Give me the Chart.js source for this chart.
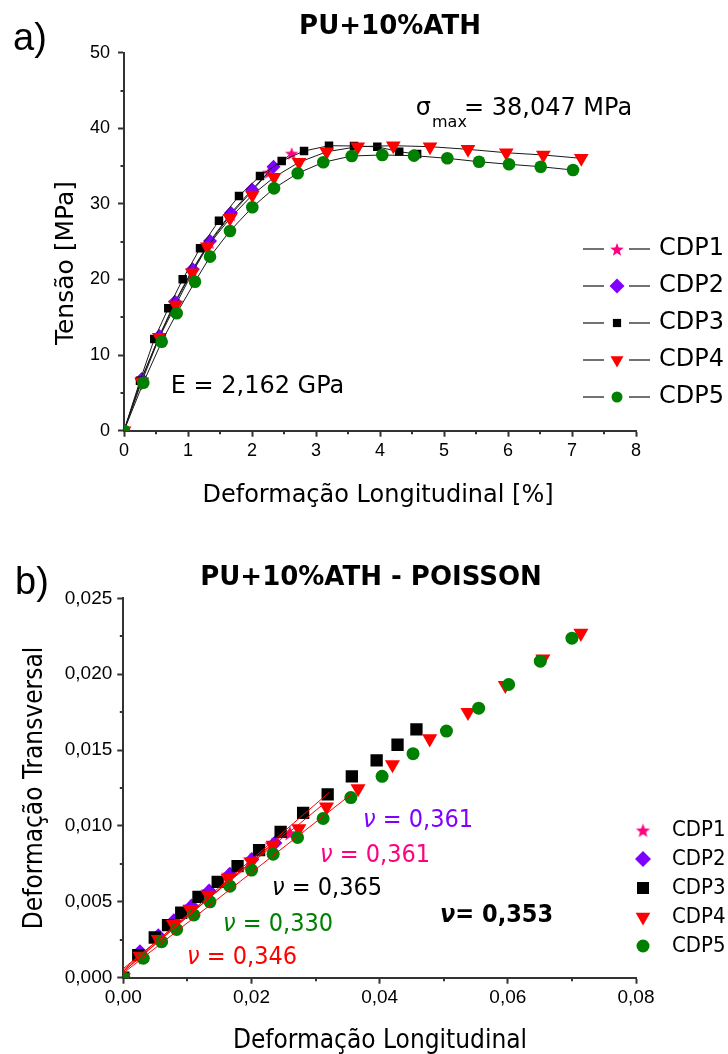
<!DOCTYPE html>
<html><head><meta charset="utf-8">
<script src="https://cdn.jsdelivr.net/npm/chart.js@4/dist/chart.umd.min.js"></script>
<style>
html,body{margin:0;padding:0;background:#fff;}
#wrap{position:relative;width:728px;height:1054px;overflow:hidden;}
canvas{position:absolute;left:0;}
#c1{top:0;} #c2{top:540px;}
</style></head><body>
<div id="wrap"><canvas id="c1" width="728" height="540"></canvas><canvas id="c2" width="728" height="514"></canvas></div>
<script>
// ---------- DATA (a) tension vs strain ----------
const seriesNames = ['CDP1','CDP2','CDP3','CDP4','CDP5'];
const cdp1StrainA = [0, 0.27, 0.55, 0.80, 1.07, 1.34, 1.67, 2.00, 2.26, 2.62];
const cdp1StressA = [0, 6.8, 12.4, 16.9, 21.2, 24.9, 28.6, 31.7, 34.2, 36.7];
const cdp2StrainA = [0, 0.277, 0.552, 0.797, 1.073, 1.344, 1.672, 2.000, 2.336];
const cdp2StressA = [0, 6.84, 12.53, 17.06, 21.35, 25.09, 28.80, 31.90, 34.9];
const cdp3StrainA = [0, 0.25, 0.473, 0.692, 0.917, 1.188, 1.484, 1.797, 2.125, 2.464, 2.813, 3.203, 3.594, 3.958, 4.30, 4.58];
const cdp3StressA = [0, 6.61, 12.13, 16.19, 20.03, 24.13, 27.78, 31.05, 33.69, 35.67, 37.00, 37.70, 37.66, 37.55, 36.9, 36.6];
const cdp4StrainA = [0, 0.277, 0.552, 0.808, 1.067, 1.302, 1.656, 2.005, 2.344, 2.734, 3.167, 3.652, 4.208, 4.781, 5.375, 5.973, 6.552, 7.145];
const cdp4StressA = [0, 6.48, 12.35, 16.63, 20.90, 24.34, 28.10, 31.18, 33.52, 35.50, 36.90, 37.57, 37.70, 37.57, 37.22, 36.77, 36.47, 36.03];
const cdp5StrainA = [0, 0.302, 0.589, 0.823, 1.109, 1.344, 1.656, 2.005, 2.344, 2.714, 3.114, 3.558, 4.036, 4.531, 5.052, 5.547, 6.016, 6.511, 7.016];
const cdp5StressA = [0, 6.35, 11.77, 15.53, 19.71, 23.02, 26.42, 29.55, 32.06, 34.05, 35.50, 36.34, 36.47, 36.38, 36.03, 35.58, 35.24, 34.92, 34.48];
const ticksXA = [0,1,2,3,4,5,6,7,8];
const ticksYA = [0,10,20,30,40,50];
const minorXA = [0.5,1.5,2.5,3.5,4.5,5.5,6.5,7.5];
const minorYA = [5,15,25,35,45];

// ---------- DATA (b) Poisson ----------
const cdp1LongB = [0, 0.0025, 0.0053, 0.0077, 0.0104, 0.0132, 0.0164, 0.0198, 0.0232, 0.0260];
const cdp1TransB = [0, 0.0016, 0.0027, 0.0037, 0.0047, 0.0057, 0.0068, 0.0078, 0.0088, 0.00954];
const cdp2LongB = [0, 0.0026, 0.00546, 0.0079, 0.01066, 0.0134, 0.01663, 0.02006, 0.02365];
const cdp2TransB = [0, 0.00171, 0.00276, 0.00375, 0.00472, 0.00572, 0.00682, 0.00779, 0.00888];
const cdp3LongB = [0, 0.00233, 0.00491, 0.00698, 0.00904, 0.01173, 0.01473, 0.01783, 0.02119, 0.02455, 0.02806, 0.03189, 0.03566, 0.03953, 0.04279, 0.04574];
const cdp3TransB = [0, 0.00149, 0.00265, 0.00346, 0.00428, 0.00533, 0.00632, 0.00735, 0.00840, 0.00961, 0.01086, 0.01208, 0.01327, 0.01432, 0.01535, 0.01636];
const cdp4LongB = [0, 0.0026, 0.00546, 0.00779, 0.0104, 0.01325, 0.01637, 0.02002, 0.02338, 0.02739, 0.03171, 0.03663, 0.0420, 0.04781, 0.05378, 0.05961, 0.06547, 0.0714];
const cdp4TransB = [0, 0.00143, 0.00253, 0.00353, 0.0045, 0.00544, 0.00654, 0.00763, 0.00873, 0.00983, 0.01125, 0.01246, 0.01404, 0.01575, 0.01748, 0.01926, 0.02101, 0.0227];
const cdp5LongB = [0, 0.00312, 0.00599, 0.00832, 0.01102, 0.01352, 0.01663, 0.02002, 0.02338, 0.02719, 0.03118, 0.0355, 0.04038, 0.04521, 0.05042, 0.05545, 0.06013, 0.06507, 0.07];
const cdp5TransB = [0, 0.00128, 0.00237, 0.00318, 0.00413, 0.005, 0.00603, 0.00709, 0.00814, 0.00924, 0.01049, 0.01187, 0.01327, 0.01476, 0.01625, 0.01776, 0.01932, 0.02086, 0.02237];
// linear fits (end points)
const fit1Long = [0, 0.026], fit1Trans = [0.0004, 0.0098];
const fit2Long = [0, 0.024], fit2Trans = [0.0004, 0.0091];
const fit3Long = [0, 0.0321], fit3Trans = [0.0005, 0.0122];
const fit4Long = [0, 0.0314], fit4Trans = [0.0006, 0.0115];
const fit5Long = [0, 0.0356], fit5Trans = [0.0003, 0.0121];
const poissonLabels = ['0,361','0,361','0,365','0,346','0,330'];
const poissonMean = '0,353';
const ticksXB = [0, 0.02, 0.04, 0.06, 0.08];
const tickLabelsXB = ['0,00','0,02','0,04','0,06','0,08'];
const ticksYB = [0, 0.005, 0.010, 0.015, 0.020, 0.025];
const tickLabelsYB = ['0,000','0,005','0,010','0,015','0,020','0,025'];
const minorXB = [0.01, 0.03, 0.05, 0.07];
const minorYB = [0.0025, 0.0075, 0.0125, 0.0175, 0.0225];

// ---------- styles ----------
const SANS = "'DejaVu Sans', Verdana, sans-serif";
const COND = "'DejaVu Sans Condensed', 'DejaVu Sans', sans-serif";
const ARIAL = "'Liberation Sans', Arial, sans-serif";
const colors = ['#FF0080', '#8000FF', '#000000', '#FF0000', '#008000'];
const AXIS = '#333333';

function starCanvas(r, color){
  const s = Math.ceil(r*2+2); const c = document.createElement('canvas');
  c.width = s; c.height = s; const g = c.getContext('2d');
  g.fillStyle = color; g.beginPath();
  for (let i=0;i<10;i++){ const rr = i%2 ? r*0.42 : r; const a = -Math.PI/2 + i*Math.PI/5;
    g.lineTo(s/2 + rr*Math.cos(a), s/2 + 1 + rr*Math.sin(a)); }
  g.closePath(); g.fill(); return c;
}
const pts = (xs, ys) => xs.map((x,i)=>({x:x, y:ys[i]}));

function markerStyles(big){
  return [
    {pointStyle: starCanvas(big?8:7, colors[0]), radius: big?8:7, rotation:0},
    {pointStyle: 'rectRot', radius: big?7.5:7, rotation:0},
    {pointStyle: 'rect', radius: big?8.7:6, rotation:0},
    {pointStyle: 'triangle', radius: big?8.7:8.5, rotation:180},
    {pointStyle: 'circle', radius: big?6.5:6.3, rotation:0}
  ];
}

function txt(ctx, s, x, y, font, color, align, baseline, rot){
  ctx.save(); ctx.font = font; ctx.fillStyle = color; ctx.textAlign = align||'left';
  ctx.textBaseline = baseline||'alphabetic'; ctx.translate(x,y); if (rot) ctx.rotate(rot);
  ctx.fillText(s, 0, 0); ctx.restore();
}

const minorPlugin = {
  id: 'minorTicks',
  afterDraw(chart, args, opts){
    const ctx = chart.ctx; const xs = chart.scales.x, ys = chart.scales.y;
    ctx.save(); ctx.strokeStyle = AXIS; ctx.lineWidth = 2;
    (opts.x||[]).forEach(v=>{ const p = Math.round(xs.getPixelForValue(v));
      ctx.beginPath(); ctx.moveTo(p, xs.top); ctx.lineTo(p, xs.top+3.5); ctx.stroke(); });
    (opts.y||[]).forEach(v=>{ const p = Math.round(ys.getPixelForValue(v));
      ctx.beginPath(); ctx.moveTo(ys.right, p); ctx.lineTo(ys.right-3.5, p); ctx.stroke(); });
    ctx.restore();
  }
};

function axisCommon(min, max, ticks, labels, font, pad, fixed, isX){
  return {
    type: 'linear', min: min, max: max,
    afterBuildTicks: s => { s.ticks = ticks.map(v=>({value:v})); },
    afterFit: s => { if (isX) s.height = fixed; else s.width = fixed; },
    ticks: { font: font, color: '#000', padding: pad, maxRotation: 0, autoSkip: false,
      callback: (v, i) => labels[i] },
    grid: { drawOnChartArea: false, drawTicks: true, tickLength: 6, tickColor: AXIS, tickWidth: 2 },
    border: { display: true, color: AXIS, width: 2 }
  };
}

// ---------- Chart (a) ----------
const mA = markerStyles(false);
const setsA = [[cdp1StrainA,cdp1StressA],[cdp2StrainA,cdp2StressA],[cdp3StrainA,cdp3StressA],[cdp4StrainA,cdp4StressA],[cdp5StrainA,cdp5StressA]];
const dsA = setsA.map((s,i)=>({
  label: seriesNames[i], data: pts(s[0], s[1]), showLine: true,
  borderColor: '#1a1a1a', borderWidth: 1, backgroundColor: colors[i],
  pointStyle: mA[i].pointStyle, pointRadius: mA[i].radius, pointRotation: mA[i].rotation,
  pointBackgroundColor: colors[i], pointBorderColor: colors[i], pointBorderWidth: 0,
  pointHoverRadius: mA[i].radius, order: 5-i
}));

const decoA = {
  id: 'decoA',
  afterDraw(chart){
    const ctx = chart.ctx;
    txt(ctx, 'a)', 13, 50, '38px '+ARIAL, '#000');
    txt(ctx, 'PU+10%ATH', 390, 34, 'bold 26px '+SANS, '#000', 'center');
    txt(ctx, 'Tensão [MPa]', 66, 263, '25px '+SANS, '#000', 'center', 'middle', -Math.PI/2);
    txt(ctx, 'Deformação Longitudinal [%]', 378, 502, '24px '+SANS, '#000', 'center');
    txt(ctx, 'σ', 415.7, 115, '24px '+SANS, '#000');
    txt(ctx, 'max', 432, 127, '16px '+SANS, '#000');
    txt(ctx, '= 38,047 MPa', 464, 115, '24px '+SANS, '#000');
    txt(ctx, 'E = 2,162 GPa', 170.7, 393.3, '24px '+SANS, '#000');
    const rows = [249, 286, 323, 360, 397];
    rows.forEach((y,i)=>{
      ctx.save(); ctx.strokeStyle = '#444'; ctx.lineWidth = 1.5;
      ctx.beginPath(); ctx.moveTo(583, y); ctx.lineTo(604, y); ctx.moveTo(629, y); ctx.lineTo(650, y); ctx.stroke();
      ctx.fillStyle = colors[i]; ctx.strokeStyle = colors[i];
      const lm = [{pointStyle: mA[0].pointStyle, radius:7, rotation:0},{pointStyle:'rectRot',radius:7.5,rotation:0},{pointStyle:'rect',radius:5.8,rotation:0},{pointStyle:'triangle',radius:7.5,rotation:180},{pointStyle:'circle',radius:5.5,rotation:0}][i];
      Chart.helpers.drawPoint(ctx, {pointStyle: lm.pointStyle, radius: lm.radius, rotation: lm.rotation, borderWidth: 0}, 617, y);
      ctx.restore();
      txt(ctx, seriesNames[i], 659, y, '24px '+SANS, '#000', 'left', 'middle');
    });
  }
};

new Chart(document.getElementById('c1'), {
  type: 'scatter',
  data: { datasets: dsA },
  options: {
    responsive: false, animation: false, devicePixelRatio: 1,
    layout: { padding: { left: 0, right: 92, top: 52.7, bottom: 540-430.7-40 } },
    plugins: { legend: {display:false}, title: {display:false}, tooltip: {enabled:false},
      minorTicks: { x: minorXA, y: minorYA } },
    scales: {
      x: axisCommon(0, 8, ticksXA, ticksXA.map(String), {family: ARIAL, size: 18}, 4, 40, true),
      y: axisCommon(0, 50, ticksYA, ticksYA.map(String), {family: ARIAL, size: 18}, 8, 124, false)
    }
  },
  plugins: [minorPlugin, decoA]
});

// ---------- Chart (b) ----------
const mB = markerStyles(true);
const setsB = [[cdp1LongB,cdp1TransB],[cdp2LongB,cdp2TransB],[cdp3LongB,cdp3TransB],[cdp4LongB,cdp4TransB],[cdp5LongB,cdp5TransB]];
const dsB = setsB.map((s,i)=>({
  label: seriesNames[i], data: pts(s[0], s[1]), showLine: false,
  backgroundColor: colors[i],
  pointStyle: mB[i].pointStyle, pointRadius: mB[i].radius, pointRotation: mB[i].rotation,
  pointBackgroundColor: colors[i], pointBorderColor: colors[i], pointBorderWidth: 0,
  pointHoverRadius: mB[i].radius, order: 5-i
}));
const fits = [[fit1Long,fit1Trans],[fit2Long,fit2Trans],[fit3Long,fit3Trans],[fit4Long,fit4Trans],[fit5Long,fit5Trans]];
fits.forEach((f,i)=>dsB.push({
  label: 'fit '+seriesNames[i], data: pts(f[0], f[1]), showLine: true,
  borderColor: '#FF0000', borderWidth: 1, pointRadius: 0, pointHoverRadius: 0, order: -1
}));

const decoB = {
  id: 'decoB',
  afterDraw(chart){
    const ctx = chart.ctx;
    txt(ctx, 'b)', 15, 54, '38px '+ARIAL, '#000');
    txt(ctx, 'PU+10%ATH - POISSON', 371, 45, 'bold 26px '+SANS, '#000', 'center');
    txt(ctx, 'Deformação Transversal', 35, 248, '26px '+COND, '#000', 'center', 'middle', -Math.PI/2);
    txt(ctx, 'Deformação Longitudinal', 380, 508, '26px '+COND, '#000', 'center');
    const ann = [
      {x:363, y:287, c:'#8000FF', t: poissonLabels[1]},
      {x:320, y:322, c:'#FF0080', t: poissonLabels[0]},
      {x:272, y:355, c:'#000000', t: poissonLabels[2]},
      {x:223, y:391, c:'#008000', t: poissonLabels[4]},
      {x:187, y:424, c:'#FF0000', t: poissonLabels[3]}
    ];
    ann.forEach(a=>{
      ctx.save(); ctx.font = 'italic 25px '+COND; const w = ctx.measureText('ν').width; ctx.restore();
      txt(ctx, 'ν', a.x, a.y, 'italic 25px '+COND, a.c);
      txt(ctx, ' = '+a.t, a.x+w, a.y, '25px '+COND, a.c);
    });
    ctx.save(); ctx.font = 'italic bold 25px '+COND; const wb = ctx.measureText('ν').width; ctx.restore();
    txt(ctx, 'ν', 440, 382, 'italic bold 25px '+COND, '#000');
    txt(ctx, '= '+poissonMean, 440+wb, 382, 'bold 25px '+COND, '#000');
    const rows = [290, 319, 348, 377, 406];
    const lm = [{pointStyle: starCanvas(7.5, colors[0]), radius:7.5, rotation:0},{pointStyle:'rectRot',radius:8,rotation:0},{pointStyle:'rect',radius:8.5,rotation:0},{pointStyle:'triangle',radius:8.5,rotation:180},{pointStyle:'circle',radius:6.5,rotation:0}];
    rows.forEach((y,i)=>{
      ctx.save(); ctx.fillStyle = colors[i]; ctx.strokeStyle = colors[i];
      Chart.helpers.drawPoint(ctx, {pointStyle: lm[i].pointStyle, radius: lm[i].radius, rotation: lm[i].rotation, borderWidth: 0}, 643, y);
      ctx.restore();
      txt(ctx, seriesNames[i], 672, y, '22px '+COND, '#000', 'left', 'middle');
    });
  }
};

new Chart(document.getElementById('c2'), {
  type: 'scatter',
  data: { datasets: dsB },
  options: {
    responsive: false, animation: false, devicePixelRatio: 1,
    layout: { padding: { left: 0, right: 92, top: 58.3, bottom: 514-437.7-40 } },
    plugins: { legend: {display:false}, title: {display:false}, tooltip: {enabled:false},
      minorTicks: { x: minorXB, y: minorYB } },
    scales: {
      x: axisCommon(0, 0.08, ticksXB, tickLabelsXB, {family: ARIAL, size: 19}, 3, 40, true),
      y: axisCommon(0, 0.025, ticksYB, tickLabelsYB, {family: ARIAL, size: 19}, 5, 123.3, false)
    }
  },
  plugins: [minorPlugin, decoB]
});
</script>
</body></html>
